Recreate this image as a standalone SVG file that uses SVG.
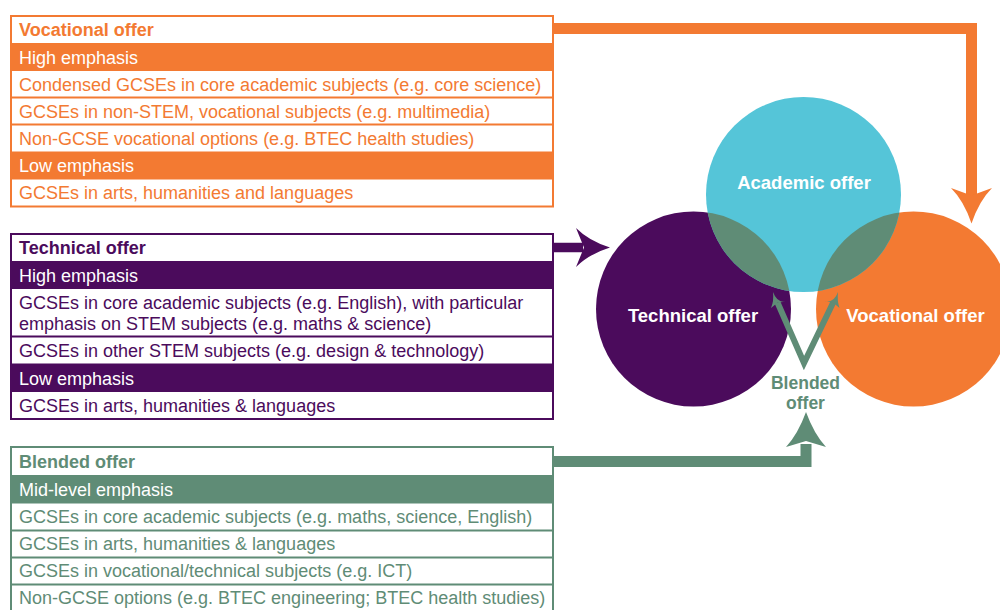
<svg xmlns="http://www.w3.org/2000/svg" width="1000" height="610" viewBox="0 0 1000 610">
<style>
text{font-family:"Liberation Sans",Arial,Helvetica,sans-serif;font-size:18px}
.b{font-weight:bold}
.w{fill:#ffffff}
.o{fill:#f37a32}.p{fill:#4b0b5c}.g{fill:#5f8c76}
.bo{fill:#fff;stroke:#f37a32;stroke-width:2}
.bp{fill:#fff;stroke:#4b0b5c;stroke-width:2}
.bg{fill:#fff;stroke:#5f8c76;stroke-width:2}
.so{stroke:#f37a32;stroke-width:2}.sp{stroke:#4b0b5c;stroke-width:2}.sg{stroke:#5f8c76;stroke-width:2}
.lbl{font-weight:bold;fill:#fff;text-anchor:middle;font-size:18.5px}
.bl{font-weight:bold;fill:#5f8c76;text-anchor:middle;font-size:17.5px}
</style>
<defs>
<clipPath id="clipTech"><circle cx="693.5" cy="309" r="97.5"/></clipPath>
<clipPath id="clipVoc"><circle cx="913.5" cy="309" r="97.5"/></clipPath>
</defs>

<g id="vocational-box">
<rect class="bo" x="11" y="16" width="542" height="190.5"/>
<rect class="o" x="10" y="43" width="544" height="28"/>
<rect class="o" x="10" y="151.5" width="544" height="28"/>
<line class="so" x1="11" y1="97.5" x2="553" y2="97.5"/>
<line class="so" x1="11" y1="124.5" x2="553" y2="124.5"/>
<text class="o b" x="19" y="36">Vocational offer</text>
<text class="w" x="19" y="63.5">High emphasis</text>
<text class="o" x="19" y="90.5">Condensed GCSEs in core academic subjects (e.g. core science)</text>
<text class="o" x="19" y="117.5">GCSEs in non-STEM, vocational subjects (e.g. multimedia)</text>
<text class="o" x="19" y="144.5">Non-GCSE vocational options (e.g. BTEC health studies)</text>
<text class="w" x="19" y="171.5">Low emphasis</text>
<text class="o" x="19" y="199">GCSEs in arts, humanities and languages</text>
</g>

<g id="technical-box">
<rect class="bp" x="11" y="234" width="542" height="185"/>
<rect class="p" x="10" y="261" width="544" height="28"/>
<rect class="p" x="10" y="363.5" width="544" height="28.5"/>
<line class="sp" x1="11" y1="336.5" x2="553" y2="336.5"/>
<text class="p b" x="19" y="254">Technical offer</text>
<text class="w" x="19" y="281.5">High emphasis</text>
<text class="p" x="19" y="308.5">GCSEs in core academic subjects (e.g. English), with particular</text>
<text class="p" x="19" y="330">emphasis on STEM subjects (e.g. maths &amp; science)</text>
<text class="p" x="19" y="357">GCSEs in other STEM subjects (e.g. design &amp; technology)</text>
<text class="w" x="19" y="384.5">Low emphasis</text>
<text class="p" x="19" y="412">GCSEs in arts, humanities &amp; languages</text>
</g>

<g id="blended-box">
<rect class="bg" x="11" y="447" width="542" height="168"/>
<rect class="g" x="10" y="475" width="544" height="28.5"/>
<line class="sg" x1="11" y1="530.5" x2="553" y2="530.5"/>
<line class="sg" x1="11" y1="557.5" x2="553" y2="557.5"/>
<line class="sg" x1="11" y1="584.5" x2="553" y2="584.5"/>
<text class="g b" x="19" y="467.5">Blended offer</text>
<text class="w" x="19" y="495.5">Mid-level emphasis</text>
<text class="g" x="19" y="523">GCSEs in core academic subjects (e.g. maths, science, English)</text>
<text class="g" x="19" y="550">GCSEs in arts, humanities &amp; languages</text>
<text class="g" x="19" y="577">GCSEs in vocational/technical subjects (e.g. ICT)</text>
<text class="g" x="19" y="604">Non-GCSE options (e.g. BTEC engineering; BTEC health studies)</text>
</g>

<g id="technical-circle">
<circle cx="693.5" cy="309" r="97.5" fill="#4b0b5c"/>
</g>
<g id="vocational-circle">
<circle cx="913.5" cy="309" r="97.5" fill="#f37a32"/>
</g>
<g id="academic-circle">
<circle cx="803.5" cy="194.5" r="97.5" fill="#55c5d8"/>
<circle cx="803.5" cy="194.5" r="97.5" fill="#5f8c76" clip-path="url(#clipTech)"/>
<circle cx="803.5" cy="194.5" r="97.5" fill="#5f8c76" clip-path="url(#clipVoc)"/>
<text class="lbl" x="804" y="189">Academic offer</text>
</g>
<g id="circle-labels">
<text class="lbl" x="693" y="322">Technical offer</text>
<text class="lbl" x="915.5" y="322">Vocational offer</text>
</g>
<g id="blended-label">
<text class="bl" x="805.5" y="388.5">Blended</text>
<text class="bl" x="805.5" y="409">offer</text>
</g>

<g id="connectors" fill="none">
<path d="M553,28.5 H971.5 V197" stroke="#f37a32" stroke-width="11" stroke-linejoin="miter"/>
<path d="M971.5,223.5 Q964,201 951,188 L971.5,195.5 L992,188 Q979,201 971.5,223.5 Z" fill="#f37a32"/>
<path d="M553,247.5 H583" stroke="#4b0b5c" stroke-width="9.5"/>
<path d="M610,247.5 Q589,241 576,228 L584,247.5 L576,267 Q589,254 610,247.5 Z" fill="#4b0b5c"/>
<path d="M553,461.5 H806 V444" stroke="#5f8c76" stroke-width="11" stroke-linejoin="miter"/>
<path d="M806,412 Q798,434 786,447 L806,441 L826,447 Q814,434 806,412 Z" fill="#5f8c76"/>
<path d="M777.5,302.5 L804,363 L833.3,302.3" stroke="#5f8c76" stroke-width="6" stroke-linejoin="miter"/>
<path d="M773,292 Q777,303 785.8,301.8 L777.8,302.5 L771,308 Q774,301 773,292 Z" fill="#5f8c76"/>
<path d="M838,292 Q834,303 824.9,301.5 L833,302.6 L839.5,308.1 Q837,301 838,292 Z" fill="#5f8c76"/>
</g>
</svg>
